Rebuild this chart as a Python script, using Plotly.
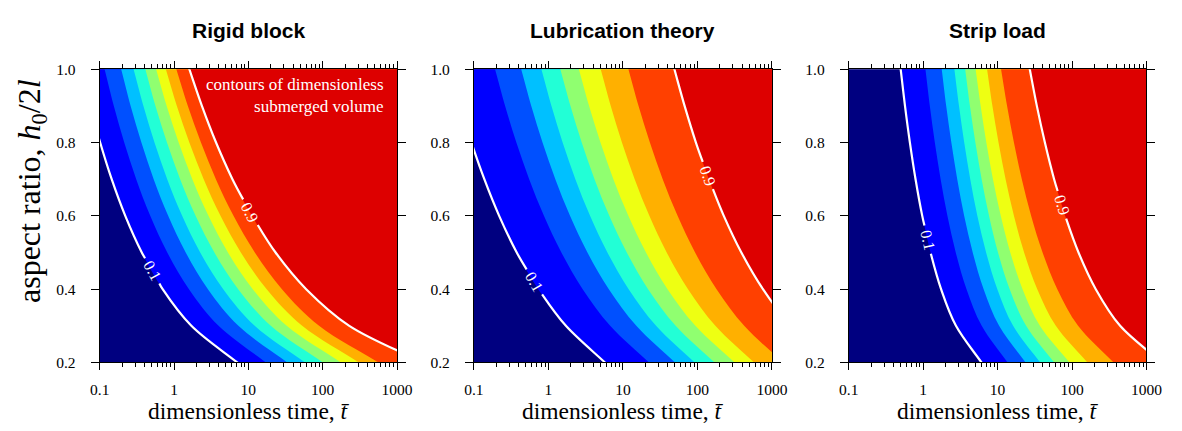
import math
import numpy as np
import plotly.graph_objects as go

# ---------------- data ----------------
# rows of aspect ratio h0/2l at which the contour positions were read
Y_ROWS = [0.2, 0.3, 0.4, 0.5, 0.6, 0.7, 0.8, 0.9, 1.0]
LEVELS = [0.1, 0.2, 0.3, 0.4, 0.5, 0.6, 0.7, 0.8, 0.9]

# log10(dimensionless time) of each contour level at each row (bottom -> top)
RIGID_LOG_T = [
    [0.850, 0.233, -0.153, -0.434, -0.656, -0.839, -0.994, -1.130, -1.250],
    [1.237, 0.599, 0.201, -0.091, -0.320, -0.509, -0.670, -0.810, -0.934],
    [1.522, 0.866, 0.456, 0.157, -0.079, -0.274, -0.439, -0.584, -0.711],
    [1.763, 1.085, 0.662, 0.352, 0.109, -0.092, -0.263, -0.412, -0.544],
    [2.004, 1.302, 0.863, 0.543, 0.290, 0.082, -0.095, -0.250, -0.386],
    [2.246, 1.516, 1.059, 0.725, 0.463, 0.246, 0.062, -0.099, -0.241],
    [2.487, 1.724, 1.247, 0.899, 0.625, 0.399, 0.206, 0.038, -0.110],
    [2.750, 1.951, 1.452, 1.087, 0.800, 0.563, 0.362, 0.186, 0.031],
    [3.350, 2.358, 1.778, 1.366, 1.047, 0.786, 0.565, 0.375, 0.206],
]
LUBRICATION_LOG_T = [
    [0.759, 0.235, -0.137, -0.425, -0.661, -0.860, -1.033, -1.185, -1.321],
    [1.350, 0.829, 0.460, 0.174, -0.060, -0.258, -0.430, -0.581, -0.716],
    [1.700, 1.180, 0.811, 0.524, 0.290, 0.093, -0.079, -0.230, -0.365],
    [1.963, 1.445, 1.077, 0.792, 0.559, 0.362, 0.191, 0.041, -0.094],
    [2.230, 1.708, 1.338, 1.052, 0.817, 0.619, 0.447, 0.296, 0.160],
    [2.500, 1.973, 1.599, 1.310, 1.073, 0.872, 0.699, 0.546, 0.409],
    [2.760, 2.241, 1.874, 1.588, 1.355, 1.158, 0.987, 0.837, 0.702],
    [3.152, 2.628, 2.257, 1.969, 1.734, 1.534, 1.362, 1.210, 1.074],
    [3.779, 3.253, 2.880, 2.590, 2.354, 2.154, 1.980, 1.828, 1.691],
]
STRIP_LOG_T = [
    [0.783, 0.440, 0.240, 0.098, -0.013, -0.103, -0.179, -0.245, -0.303],
    [1.134, 0.786, 0.582, 0.437, 0.325, 0.234, 0.156, 0.089, 0.030],
    [1.375, 1.020, 0.812, 0.665, 0.550, 0.457, 0.378, 0.309, 0.249],
    [1.572, 1.208, 0.996, 0.845, 0.727, 0.632, 0.551, 0.481, 0.419],
    [1.760, 1.383, 1.162, 1.005, 0.884, 0.785, 0.701, 0.628, 0.564],
    [1.966, 1.568, 1.335, 1.170, 1.042, 0.937, 0.848, 0.772, 0.704],
    [2.207, 1.782, 1.533, 1.356, 1.219, 1.107, 1.012, 0.930, 0.858],
    [2.558, 2.081, 1.802, 1.604, 1.450, 1.325, 1.219, 1.127, 1.046],
    [3.206, 2.646, 2.319, 2.087, 1.907, 1.759, 1.635, 1.527, 1.432],
]
PANEL_DATA = [RIGID_LOG_T, LUBRICATION_LOG_T, STRIP_LOG_T]
PANEL_TITLES = ["Rigid block", "Lubrication theory", "Strip load"]

# contour lines drawn in white, and the h0/2l where their labels sit
WHITE_LEVELS = [0.1, 0.9]
RIGID_LABEL_Y = [0.45, 0.61]
LUBRICATION_LABEL_Y = [0.42, 0.71]
STRIP_LABEL_Y = [0.535, 0.63]
PANEL_LABEL_Y = [RIGID_LABEL_Y, LUBRICATION_LABEL_Y, STRIP_LABEL_Y]

X_TICKS = [0.1, 1, 10, 100, 1000]
X_TICK_TEXT = ["0.1", "1", "10", "100", "1000"]
Y_TICKS = [0.2, 0.4, 0.6, 0.8, 1.0]
Y_TICK_TEXT = ["0.2", "0.4", "0.6", "0.8", "1.0"]

# ---------------- styling ----------------
BAND_COLORS = ["#000080", "#0000ff", "#0050ff", "#00c0ff", "#22ffd6",
               "#90ff70", "#eeff12", "#ffb000", "#ff4000", "#dd0000"]
X_DOMAINS = [(0.0776, 0.3348), (0.4013, 0.6591), (0.7256, 0.9831)]
Y_DOMAIN = (0.1462, 0.8545)
FIG_W, FIG_H = 1182, 431
PX_PER_DECADE = 76.0
PX_PER_Y = 381.5
SERIF = "Liberation Serif"
SANS = "Liberation Sans"

MINOR_TICKS = [m * d for d in (0.1, 1, 10, 100) for m in range(2, 10)]

Y_EXT_B = Y_ROWS[0] - (Y_ROWS[1] - Y_ROWS[0]) * 0.5
Y_EXT_T = Y_ROWS[-1] + (Y_ROWS[-1] - Y_ROWS[-2]) * 0.5
FAR = 4.5

fig = go.Figure()


def ext_points(lt):
    lb = lt[0] + (lt[0] - lt[1]) * 0.5
    ltop = lt[-1] + (lt[-1] - lt[-2]) * 0.5
    return lb, ltop


for p in range(3):
    xa = "x" if p == 0 else f"x{p + 1}"
    ya = "y" if p == 0 else f"y{p + 1}"
    data = PANEL_DATA[p]
    # filled bands: each level fills everything to its right
    for i, lvl in enumerate(LEVELS):
        lt = data[i]
        lb, ltop = ext_points(lt)
        xs = [FAR, lb] + list(lt) + [ltop, FAR]
        ys = [Y_EXT_B, Y_EXT_B] + Y_ROWS + [Y_EXT_T, Y_EXT_T]
        col = BAND_COLORS[i + 1]
        fig.add_trace(go.Scatter(
            x=[10 ** v for v in xs], y=ys, mode="lines", fill="toself",
            fillcolor=col, line=dict(width=0, color=col, shape="spline"),
            hoverinfo="skip", showlegend=False, xaxis=xa, yaxis=ya))

    # white labelled contour lines with a gap at the label
    for j, lvl in enumerate(WHITE_LEVELS):
        lt = data[LEVELS.index(lvl)]
        lb, ltop = ext_points(lt)
        y_lab = PANEL_LABEL_Y[p][j]
        k = max(0, min(len(Y_ROWS) - 2, int(np.searchsorted(Y_ROWS, y_lab)) - 1))
        dx = (lt[k] - lt[k + 1]) * PX_PER_DECADE
        dy = (Y_ROWS[k + 1] - Y_ROWS[k]) * PX_PER_Y
        ang = math.degrees(math.atan2(dy, dx))
        gap = 15 * math.sin(math.radians(ang)) / PX_PER_Y
        y_lo, y_hi = y_lab - gap, y_lab + gap
        x_lab = float(np.interp(y_lab, Y_ROWS, lt))

        lower_y = [Y_EXT_B] + [y for y in Y_ROWS if y < y_lo] + [y_lo]
        lower_x = [lb] + [v for y, v in zip(Y_ROWS, lt) if y < y_lo] + [float(np.interp(y_lo, Y_ROWS, lt))]
        upper_y = [y_hi] + [y for y in Y_ROWS if y > y_hi] + [Y_EXT_T]
        upper_x = [float(np.interp(y_hi, Y_ROWS, lt))] + [v for y, v in zip(Y_ROWS, lt) if y > y_hi] + [ltop]
        for xs, ys in ((lower_x, lower_y), (upper_x, upper_y)):
            fig.add_trace(go.Scatter(
                x=[10 ** v for v in xs], y=ys, mode="lines",
                line=dict(width=2.2, color="white", shape="spline"),
                hoverinfo="skip", showlegend=False, xaxis=xa, yaxis=ya))
        fig.add_annotation(
            x=x_lab, y=y_lab, xref=xa, yref=ya, text=f"{lvl:.1f}",
            showarrow=False, textangle=ang, xanchor="center", yanchor="middle",
            font=dict(family=SERIF, size=16, color="white"))

    # axes
    dom = X_DOMAINS[p]
    fig.update_layout(**{
        ("xaxis" if p == 0 else f"xaxis{p + 1}"): dict(
            type="log", range=[-1, 3], domain=list(dom), anchor=ya,
            tickmode="array", tickvals=X_TICKS, ticktext=X_TICK_TEXT,
            ticks="outside", ticklen=7, tickwidth=1, tickcolor="black",
            mirror="allticks", showline=True, linecolor="black", linewidth=1,
            showgrid=False, zeroline=False,
            minor=dict(tickmode="array", tickvals=MINOR_TICKS, ticks="outside",
                       ticklen=4, tickwidth=1, tickcolor="black", showgrid=False),
            tickfont=dict(family=SERIF, size=15.5, color="black"),
            ticklabelstandoff=6),
        ("yaxis" if p == 0 else f"yaxis{p + 1}"): dict(
            range=[0.2, 1.0], domain=list(Y_DOMAIN), anchor=xa,
            tickmode="array", tickvals=Y_TICKS, ticktext=Y_TICK_TEXT,
            ticks="outside", ticklen=8, tickwidth=1, tickcolor="black",
            mirror="allticks", showline=True, linecolor="black", linewidth=1,
            showgrid=False, zeroline=False,
            tickfont=dict(family=SERIF, size=15.5, color="black"),
            ticklabelstandoff=12),
    })

    cx = (dom[0] + dom[1]) / 2
    fig.add_annotation(
        x=cx, y=1 - 22 / FIG_H, xref="paper", yref="paper",
        text=f"<b>{PANEL_TITLES[p]}</b>", showarrow=False,
        xanchor="center", yanchor="middle",
        font=dict(family=SANS, size=21, color="black"))
    fig.add_annotation(
        x=cx, y=1 - 418 / FIG_H, xref="paper", yref="paper",
        text="dimensionless time, <i>t\u0304</i>", showarrow=False,
        xanchor="center", yanchor="middle",
        font=dict(family=SERIF, size=23.5, color="black"))

fig.add_annotation(
    x=22 / FIG_W, y=1 - 190 / FIG_H, xref="paper", yref="paper",
    text="aspect ratio, <i>h</i><sub>0</sub>/2<i>l</i>", showarrow=False,
    textangle=-90, xanchor="center", yanchor="middle",
    font=dict(family=SERIF, size=32, color="black"))

fig.add_annotation(
    x=384 / FIG_W, y=1 - 67 / FIG_H, xref="paper", yref="paper",
    text="contours of dimensionless<br>submerged volume", showarrow=False,
    xanchor="right", yanchor="top", align="right",
    font=dict(family=SERIF, size=17, color="white"))

fig.update_layout(
    width=FIG_W, height=FIG_H,
    margin=dict(l=0, r=0, t=0, b=0),
    paper_bgcolor="white", plot_bgcolor=BAND_COLORS[0],
    showlegend=False,
)

fig.write_html("out.html")
